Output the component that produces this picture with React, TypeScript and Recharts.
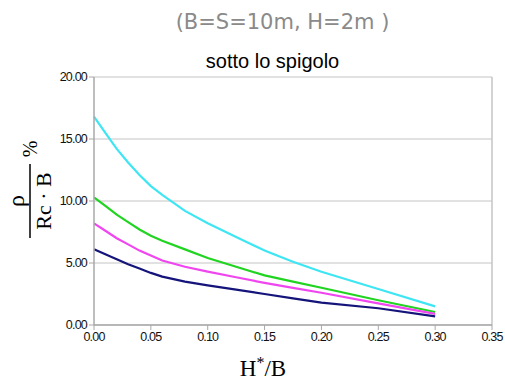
import React from "react";
import {
  LineChart,
  Line,
  XAxis,
  YAxis,
  CartesianGrid,
  ReferenceLine,
} from "recharts";

const hOverB = [0, 0.01, 0.02, 0.03, 0.04, 0.05, 0.06, 0.08, 0.1, 0.125, 0.15, 0.175, 0.2, 0.25, 0.3];
const cyanSeries = [16.8, 15.5, 14.2, 13.1, 12.1, 11.2, 10.5, 9.2, 8.2, 7.1, 6.0, 5.1, 4.3, 2.9, 1.5];
const greenSeries = [10.3, 9.6, 8.9, 8.3, 7.7, 7.2, 6.8, 6.1, 5.4, 4.7, 4.0, 3.5, 3.0, 2.0, 1.05];
const magentaSeries = [8.2, 7.6, 7.0, 6.5, 6.0, 5.6, 5.2, 4.7, 4.3, 3.85, 3.4, 3.0, 2.6, 1.75, 0.9];
const navySeries = [6.1, 5.7, 5.3, 4.9, 4.55, 4.2, 3.9, 3.5, 3.2, 2.85, 2.5, 2.15, 1.8, 1.35, 0.7];

const xTicks = [0, 0.05, 0.1, 0.15, 0.2, 0.25, 0.3, 0.35];
const yTicks = [0, 5, 10, 15, 20];

const data = hOverB.map((x, i) => ({
  x,
  cyan: cyanSeries[i],
  green: greenSeries[i],
  magenta: magentaSeries[i],
  navy: navySeries[i],
}));

const tickStyle = {
  fontSize: 12.5,
  fill: "#111",
  fontFamily: "'Liberation Sans', Arial, sans-serif",
  letterSpacing: -0.8,
};

const serif = "'Liberation Serif', 'Times New Roman', serif";

const YLabel = () => (
  <g fontFamily={serif} fill="#000">
    <g transform="translate(0,201) rotate(-90)">
      <text x={0} y={24} fontSize={24} textAnchor="middle">ρ</text>
      <line x1={-37} x2={37} y1={30} y2={30} stroke="#000" strokeWidth={1.5} />
      <text x={0} y={51} fontSize={22} textAnchor="middle">Rc · B</text>
      <text x={52} y={37} fontSize={20} textAnchor="middle">%</text>
    </g>
  </g>
);

const XLabel = () => (
  <text x={263} y={376} fontFamily={serif} fontSize={23} fill="#000" textAnchor="middle">
    H<tspan dy={-8} fontSize={16}>*</tspan>
    <tspan dy={8}>/B</tspan>
  </text>
);

export default function App() {
  return (
    <div style={{ position: "absolute", left: 0, top: 0, width: 505, height: 382, background: "#fff" }}>
      <div
        style={{
          position: "absolute",
          left: 0,
          width: 565,
          top: 10,
          textAlign: "center",
          fontFamily: "'DejaVu Sans', sans-serif",
          fontSize: 21,
          color: "#8a8a8a",
        }}
      >
        (B=S=10m, H=2m )
      </div>
      <div
        style={{
          position: "absolute",
          left: 0,
          width: 545,
          top: 50,
          textAlign: "center",
          fontFamily: "'Liberation Sans', Arial, sans-serif",
          fontSize: 20,
          color: "#000",
        }}
      >
        sotto lo spigolo
      </div>
      <div style={{ position: "absolute", left: 0, top: 0 }}>
        <LineChart
          width={505}
          height={382}
          data={data}
          margin={{ top: 77, right: 13, left: 34, bottom: 27 }}
        >
          <CartesianGrid vertical={false} stroke="#c4c4c4" strokeWidth={1} />
          <ReferenceLine x={0.35} stroke="#c4c4c4" strokeWidth={1.5} />
          <XAxis
            dataKey="x"
            type="number"
            domain={[0, 0.35]}
            ticks={xTicks}
            tickFormatter={(v: number) => v.toFixed(2)}
            tick={tickStyle}
            axisLine={{ stroke: "#a8a8a8", strokeWidth: 1.5 }}
            tickLine={{ stroke: "#a8a8a8" }}
            tickSize={5}
            height={30}
            label={{ content: () => <XLabel /> }}
          />
          <YAxis
            type="number"
            domain={[0, 20]}
            ticks={yTicks}
            tickFormatter={(v: number) => v.toFixed(2)}
            tick={tickStyle}
            axisLine={{ stroke: "#a8a8a8", strokeWidth: 1.5 }}
            tickLine={{ stroke: "#a8a8a8" }}
            tickSize={5}
            width={60}
            label={{ content: () => <YLabel /> }}
          />
          <Line type="linear" dataKey="cyan" stroke="#3ee6f4" strokeWidth={2.2} dot={false} isAnimationActive={false} />
          <Line type="linear" dataKey="green" stroke="#22d422" strokeWidth={2.2} dot={false} isAnimationActive={false} />
          <Line type="linear" dataKey="magenta" stroke="#f046f0" strokeWidth={2.2} dot={false} isAnimationActive={false} />
          <Line type="linear" dataKey="navy" stroke="#14147a" strokeWidth={2.2} dot={false} isAnimationActive={false} />
        </LineChart>
      </div>
    </div>
  );
}
